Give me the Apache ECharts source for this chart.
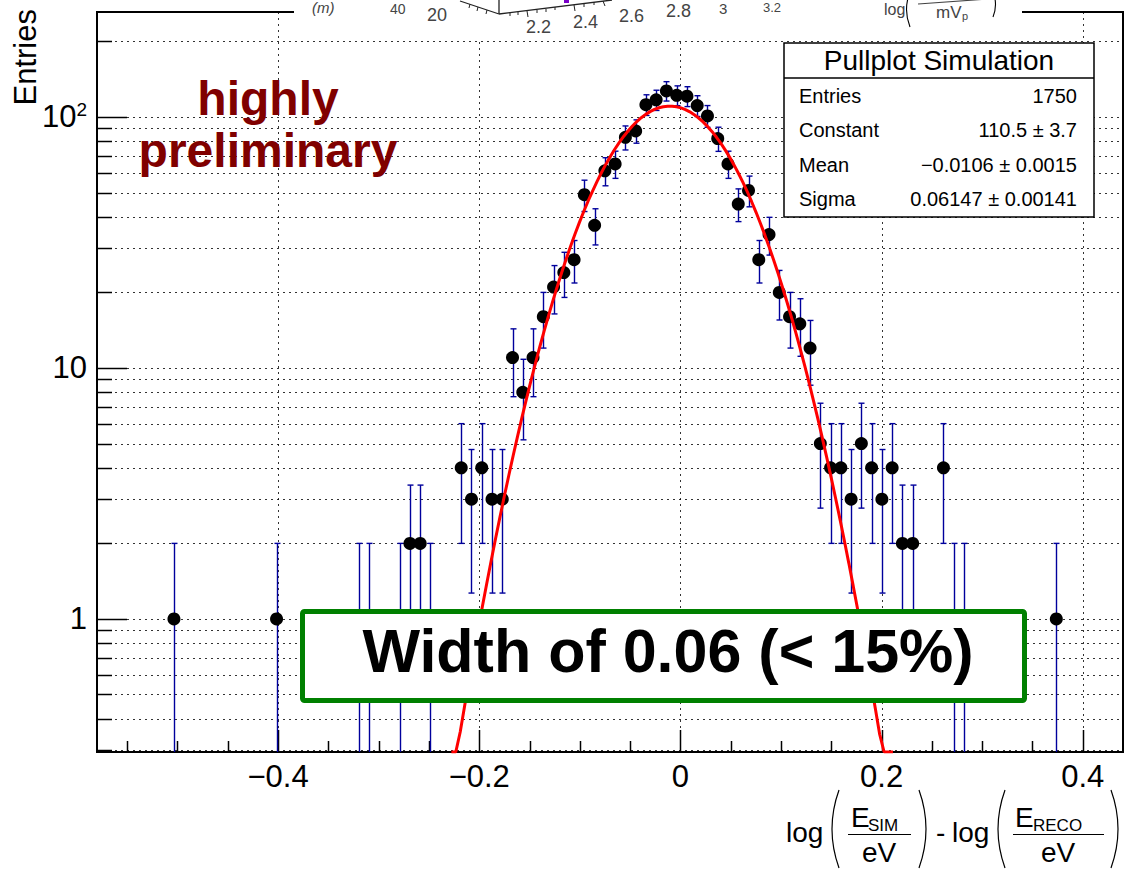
<!DOCTYPE html>
<html>
<head>
<meta charset="utf-8">
<script src="https://cdn.jsdelivr.net/npm/echarts@6/dist/echarts.min.js"></script>
<style>
  html, body { margin: 0; padding: 0; background: #fff; }
  #chart { width: 1124px; height: 872px; }
</style>
</head>
<body>
<div id="chart"></div>
<script>
// Pull distribution log(E_SIM/eV) - log(E_RECO/eV); 100 bins of width 0.0102 over [-0.58, 0.44].
// Only non-empty bins are listed (bin centre, entries).
const binCenters = [
  -0.5035, -0.4015, -0.3199, -0.3097, -0.2791, -0.2689, -0.2587, -0.2485,
  -0.2179, -0.2077, -0.1975, -0.1873, -0.1771,
  -0.1669, -0.1567, -0.1465, -0.1363, -0.1261, -0.1159, -0.1057, -0.0955, -0.0853, -0.0751,
  -0.0649, -0.0547, -0.0445, -0.0343, -0.0241, -0.0139, -0.0037, 0.0065, 0.0167, 0.0269,
  0.0371, 0.0473, 0.0575, 0.0677, 0.0779, 0.0881, 0.0983, 0.1085, 0.1187, 0.1289,
  0.1391, 0.1493, 0.1595, 0.1697, 0.1799, 0.1901, 0.2003, 0.2105, 0.2207, 0.2309,
  0.2615, 0.2717, 0.2819, 0.3737
];
const entries = [
  1, 1, 1, 1, 1, 2, 2, 1,
  4, 3, 4, 3, 3,
  11, 8, 11, 16, 21, 24, 27, 49, 37, 61,
  65, 83, 88, 112, 117, 127, 122, 121, 111, 101,
  82, 65, 45, 51, 27, 34, 20, 16, 15, 12,
  5, 4, 4, 3, 5, 4, 3, 4, 2, 2,
  4, 1, 1, 1
];

// Gaussian fit parameters
const fitConstant = 110.5;
const fitMean = -0.0106;
const fitSigma = 0.06147;
const fitRange = [-0.2277, 0.2113];
const fitSamples = 100;

// Axis ranges and tick values
const xRange = [-0.58, 0.44];
const yRange = [0.295, 262];
const xTickLabels = [-0.4, -0.2, 0, 0.2, 0.4];
const xMinorTicks = [-0.55, -0.5, -0.45, -0.35, -0.3, -0.25, -0.15, -0.1, -0.05,
                     0.05, 0.1, 0.15, 0.25, 0.3, 0.35];
const yTickLabels = [1, 10, 100];
const yMinorTicks = [0.3, 0.4, 0.5, 0.6, 0.7, 0.8, 0.9,
                     2, 3, 4, 5, 6, 7, 8, 9,
                     20, 30, 40, 50, 60, 70, 80, 90, 200];

// Stats box
const statsTitle = 'Pullplot Simulation';
const statsRows = [
  ['Entries', '1750'],
  ['Constant', '110.5 \u00b1 3.7'],
  ['Mean', '\u22120.0106 \u00b1 0.0015'],
  ['Sigma', '0.06147 \u00b1 0.00141']
];

const FONT = '"Liberation Sans", Arial, Helvetica, sans-serif';

const points = binCenters.map((x, i) => [x, entries[i]]);

const fitCurve = [];
for (let i = 0; i <= fitSamples; i++) {
  const x = fitRange[0] + (fitRange[1] - fitRange[0]) * i / fitSamples;
  const z = (x - fitMean) / fitSigma;
  const g = fitConstant * Math.exp(-0.5 * z * z);
  fitCurve.push([x, Math.max(g, yRange[0])]);
}

// Dotted grid plus inward ticks, ROOT style
function renderFrameDecor(params, api) {
  const cs = params.coordSys;
  const children = [];
  const gridStyle = { stroke: '#000', lineWidth: 1, lineDash: [2, 4], opacity: 0.8 };
  const tickStyle = { stroke: '#000', lineWidth: 1.5 };
  const left = cs.x, bottom = cs.y + cs.height;
  yTickLabels.concat(yMinorTicks).forEach(v => {
    const y = Math.round(api.coord([xRange[0], v])[1]) + 0.5;
    children.push({ type: 'line', shape: { x1: left, y1: y, x2: left + cs.width, y2: y }, style: gridStyle });
  });
  xTickLabels.forEach(v => {
    const x = Math.round(api.coord([v, yRange[0]])[0]) + 0.5;
    children.push({ type: 'line', shape: { x1: x, y1: cs.y, x2: x, y2: bottom }, style: gridStyle });
  });
  yTickLabels.forEach(v => {
    const y = Math.round(api.coord([xRange[0], v])[1]) + 0.5;
    children.push({ type: 'line', shape: { x1: left, y1: y, x2: left + 30, y2: y }, style: tickStyle });
  });
  yMinorTicks.forEach(v => {
    const y = Math.round(api.coord([xRange[0], v])[1]) + 0.5;
    children.push({ type: 'line', shape: { x1: left, y1: y, x2: left + 15, y2: y }, style: tickStyle });
  });
  xTickLabels.forEach(v => {
    const x = Math.round(api.coord([v, yRange[0]])[0]) + 0.5;
    children.push({ type: 'line', shape: { x1: x, y1: bottom, x2: x, y2: bottom - 22 }, style: tickStyle });
  });
  xMinorTicks.forEach(v => {
    const x = Math.round(api.coord([v, yRange[0]])[0]) + 0.5;
    children.push({ type: 'line', shape: { x1: x, y1: bottom, x2: x, y2: bottom - 11 }, style: tickStyle });
  });
  return { type: 'group', children };
}

// Poisson error bars (sqrt N) with end caps
function renderErrorBar(params, api) {
  const x = api.value(0), n = api.value(1);
  const err = Math.sqrt(n);
  const lowV = n - err;
  const clippedLow = lowV <= yRange[0];
  const top = api.coord([x, n + err]);
  const bot = api.coord([x, clippedLow ? yRange[0] : lowV]);
  const cx = Math.round(top[0]) + 0.5;
  const cap = 3;
  const style = { stroke: '#00009c', lineWidth: 1.4 };
  const children = [
    { type: 'line', shape: { x1: cx, y1: top[1], x2: cx, y2: bot[1] }, style },
    { type: 'line', shape: { x1: cx - cap, y1: top[1], x2: cx + cap, y2: top[1] }, style }
  ];
  if (!clippedLow) {
    children.push({ type: 'line', shape: { x1: cx - cap, y1: bot[1], x2: cx + cap, y2: bot[1] }, style });
  }
  return { type: 'group', children };
}

function paren(x, yTop, yBot, bulge, width) {
  return {
    type: 'bezierCurve',
    shape: { x1: x, y1: yTop, x2: x, y2: yBot, cpx1: x + bulge, cpy1: (yTop + yBot) / 2 },
    style: { stroke: '#000', lineWidth: width || 1.2, fill: null }
  };
}
function txt(text, x, y, size, opts) {
  return {
    type: 'text', x, y,
    style: Object.assign({ text, font: size + 'px ' + FONT, fill: '#000',
      textAlign: 'left', textVerticalAlign: 'middle' }, opts || {})
  };
}
function seg(x1, y1, x2, y2, w, color) {
  return { type: 'line', shape: { x1, y1, x2, y2 }, style: { stroke: color || '#000', lineWidth: w || 1.2 } };
}
// put every element of an overlay group at the given z so it sits above the series
function layer(group, z) {
  group.children.forEach(c => { c.z = z; });
  return group;
}

// Fragment of a neighbouring 3D plot that overlaps the top of the frame
const topFragment = layer({
  type: 'group',
  children: [
    { type: 'rect', shape: { x: 294, y: 0, width: 728, height: 40 }, style: { fill: '#fff' } },
    txt('(m)', 312, 7, 15, { fill: '#444', font: 'italic 15px ' + FONT }),
    txt('40', 390, 9, 14, { fill: '#444' }),
    txt('20', 427, 15, 18, { fill: '#444' }),
    seg(460, 1, 499, 14, 1.3, '#222'),
    seg(499, 0, 499, 14, 1.3, '#222'),
    seg(499, 14, 612, 0, 1.3, '#222'),
    seg(470, 4, 469, 8, 1, '#222'), seg(478, 7, 477, 11, 1, '#222'), seg(487, 10, 486, 14, 1, '#222'),
    seg(510, 13, 510, 16, 1, '#222'), seg(518, 12, 518, 15, 1, '#222'), seg(527, 11, 528, 17, 1, '#222'),
    seg(537, 10, 537, 13, 1, '#222'), seg(546, 9, 546, 12, 1, '#222'), seg(555, 7, 555, 10, 1, '#222'),
    seg(574, 5, 575, 11, 1, '#222'), seg(584, 4, 584, 7, 1, '#222'), seg(594, 2, 594, 5, 1, '#222'),
    seg(603, 1, 605, 6, 1, '#222'),
    { type: 'rect', shape: { x: 564, y: 0, width: 5, height: 3 }, style: { fill: '#7a00c8' } },
    txt('2.2', 526, 27, 18, { fill: '#444' }),
    txt('2.4', 573, 22, 18, { fill: '#444' }),
    txt('2.6', 619, 16, 18, { fill: '#444' }),
    txt('2.8', 666, 11, 18, { fill: '#444' }),
    txt('3', 719, 8, 15, { fill: '#444' }),
    txt('3.2', 763, 7, 13, { fill: '#444' }),
    txt('log', 884, 9, 16, { fill: '#444' }),
    paren(910, -8, 27, -7, 1.1),
    seg(918, 4, 988, -1, 1.1, '#444'),
    txt('mV', 936, 12, 17, { fill: '#444' }),
    txt('p', 962, 16, 11, { fill: '#444' }),
    paren(993, -8, 17, 5, 1.1)
  ]
}, 100);

// Axis title: log(E_SIM/eV) - log(E_RECO/eV)
const xTitle = layer({
  type: 'group',
  children: [
    txt('log', 786, 832, 28),
    paren(839, 790, 868, -14),
    txt('E', 851, 817, 28),
    txt('SIM', 868, 825, 17),
    seg(848, 834.5, 911, 834.5, 1.2),
    txt('eV', 879, 852, 28, { textAlign: 'center' }),
    paren(919, 790, 868, 14),
    txt('-', 936, 832, 28),
    txt('log', 952, 832, 28),
    paren(1005, 790, 868, -14),
    txt('E', 1015, 817, 28),
    txt('RECO', 1033, 825, 17),
    seg(1013, 834.5, 1104, 834.5, 1.2),
    txt('eV', 1058, 852, 28, { textAlign: 'center' }),
    paren(1111, 790, 868, 14)
  ]
}, 100);

const statsBox = layer({
  type: 'group',
  children: [
    { type: 'rect', shape: { x: 784, y: 43, width: 310, height: 174 },
      style: { fill: '#fff', stroke: '#000', lineWidth: 1.5 } },
    seg(784, 78, 1094, 78, 1.5),
    txt(statsTitle, 939, 60, 28, { textAlign: 'center' }),
  ].concat(statsRows.flatMap((r, i) => [
    txt(r[0], 799, 96 + i * 34.3, 20),
    txt(r[1], 1077, 96 + i * 34.3, 20, { textAlign: 'right' })
  ]))
}, 110);

const prelim = layer({
  type: 'group',
  children: [
    txt('highly', 268, 98, 48, { textAlign: 'center', fill: '#800000', font: 'bold 48px ' + FONT }),
    txt('preliminary', 268, 150, 48, { textAlign: 'center', fill: '#800000', font: 'bold 48px ' + FONT })
  ]
}, 100);

const widthBox = layer({
  type: 'group',
  children: [
    { type: 'rect', shape: { x: 302.5, y: 611.5, width: 722, height: 89, r: 2 },
      style: { fill: '#fff', stroke: '#008000', lineWidth: 5 } },
    txt('Width of 0.06 (< 15%)', 668, 651, 61, { textAlign: 'center', font: 'bold 61px ' + FONT })
  ]
}, 120);

const yTitle = {
  type: 'text', z: 100, x: 25, y: 9, rotation: Math.PI / 2,
  style: { text: 'Entries', font: '31px ' + FONT, fill: '#000', textAlign: 'right', textVerticalAlign: 'middle' }
};

const chart = echarts.init(document.getElementById('chart'), null, { renderer: 'svg' });
chart.setOption({
  animation: false,
  backgroundColor: '#fff',
  grid: { left: 97, right: 1, top: 12, bottom: 120, show: true, borderColor: '#000', borderWidth: 2,
          backgroundColor: 'transparent' },
  xAxis: {
    type: 'value', min: xRange[0], max: xRange[1],
    axisLine: { show: true, onZero: false, lineStyle: { color: '#000', width: 1.5 } },
    axisTick: { show: false }, splitLine: { show: false },
    axisLabel: {
      customValues: xTickLabels, margin: 9, color: '#000', fontSize: 31, fontFamily: FONT,
      formatter: v => (v < 0 ? '\u2212' + Math.abs(v) : String(v))
    }
  },
  yAxis: {
    type: 'log', logBase: 10, min: yRange[0], max: yRange[1],
    axisLine: { show: true, onZero: false, lineStyle: { color: '#000', width: 2 } },
    axisTick: { show: false }, splitLine: { show: false }, minorSplitLine: { show: false },
    axisLabel: {
      customValues: yTickLabels, margin: 10, color: '#000', fontSize: 31, fontFamily: FONT,
      formatter: v => (Math.abs(v - 100) < 1e-6 ? '10{sup|2}' : String(Math.round(v))),
      rich: { sup: { fontSize: 19, fontFamily: FONT, color: '#000', verticalAlign: 'top', padding: [0, 0, 14, 0] } }
    }
  },
  series: [
    { type: 'custom', name: 'frame', z: 1, silent: true, renderItem: renderFrameDecor,
      data: [[xRange[0], yRange[0]]] },
    { type: 'custom', name: 'errors', z: 2, silent: true, renderItem: renderErrorBar, data: points },
    { type: 'scatter', name: 'entries', z: 3, data: points, symbol: 'circle', symbolSize: 13,
      itemStyle: { color: '#000', opacity: 1 } },
    { type: 'line', name: 'gaus', z: 4, data: fitCurve, showSymbol: false, smooth: false, clip: true,
      lineStyle: { color: '#ff0000', width: 3 } }
  ],
  graphic: [topFragment, yTitle, prelim, statsBox, widthBox, xTitle]
});
</script>
</body>
</html>
